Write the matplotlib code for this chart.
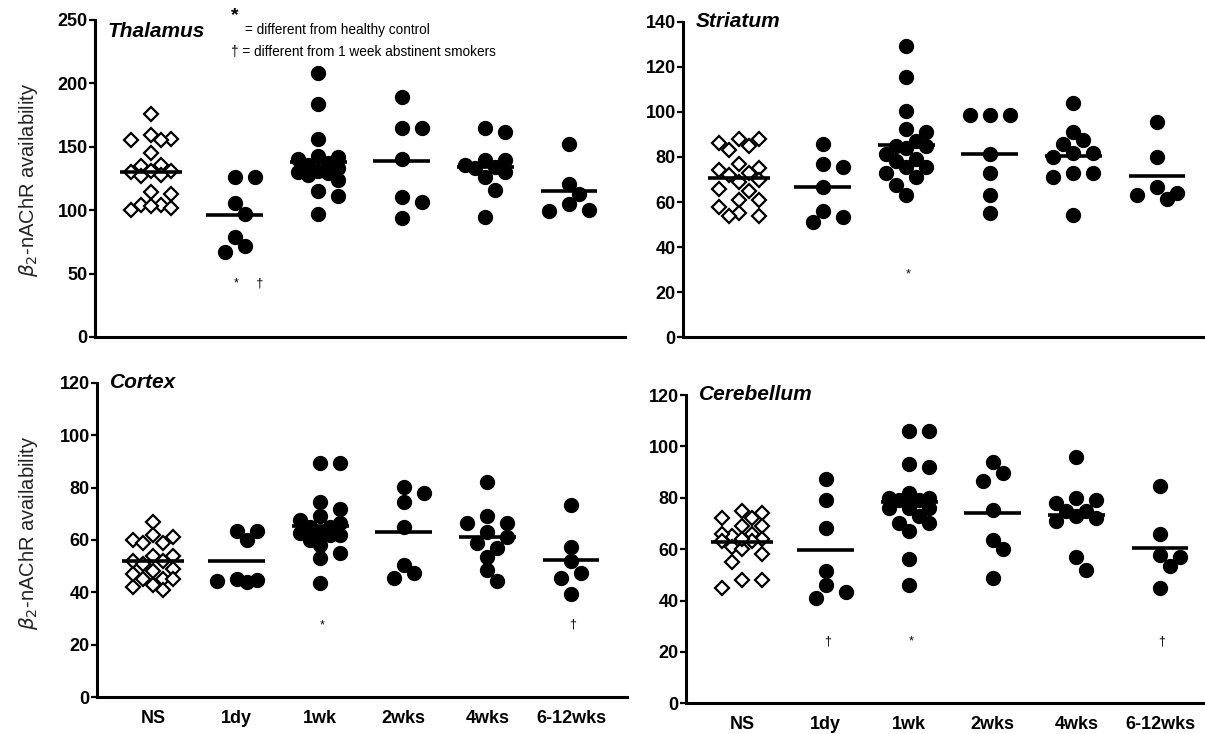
import matplotlib
matplotlib.use("Agg")
import matplotlib.pyplot as plt
import numpy as np

plt.rcParams['font.family'] = ['Liberation Sans', 'DejaVu Sans']

groups = ["NS", "1dy", "1wk", "2wks", "4wks", "6-12wks"]

# beta2-nAChR availability per subject, one list per group
thalamus = [
    [176, 159, 156, 155, 155, 145, 136, 135, 131, 131, 130, 128, 127, 114, 113, 104, 104, 103, 102, 100],
    [126, 126, 106, 97, 79, 67, 72],
    [208, 184, 156, 143, 142, 140, 137, 136, 133, 131, 130, 129, 128, 124, 115, 111, 97],
    [189.5, 164.5, 164.5, 140, 110.5, 106.6, 94.2],
    [164.5, 162, 133, 126, 135.5, 139.5, 134, 139.5, 130, 116, 95],
    [152, 121, 113, 104.7, 99.5, 100],
]
striatum = [
    [88, 88, 86, 85, 83, 77, 75, 74, 73, 72, 70, 69, 66, 65, 61, 61, 58, 55, 54, 54],
    [85.7, 75.7, 76.9, 66.5, 56.2, 51, 53.2],
    [129, 115.5, 100.6, 92.5, 91, 87, 85, 85, 84, 81.5, 79, 78, 75.5, 75.5, 73, 71, 67.5, 63],
    [98.6, 98.6, 98.6, 81.2, 73, 63.1, 55],
    [103.8, 91.2, 87.5, 85.7, 81.9, 81.6, 80, 72.7, 71.3, 72.7, 54.3],
    [95.7, 79.8, 64.2, 61.2, 66.5, 63.1],
]
cortex = [
    [67, 60, 62, 61, 59, 59, 54, 52, 54, 52, 51, 49, 48, 45, 45, 45, 43, 42, 41, 47],
    [63.4, 60, 63.4, 44.7, 44.1, 45, 44.5],
    [89.2, 89.2, 74.6, 72, 69, 67.6, 65, 65, 66.4, 61.9, 62.5, 61.9, 58, 54.9, 53, 43.7, 63, 60],
    [80.3, 74.6, 78, 65, 50.5, 45.4, 47.3],
    [82.2, 66.4, 69.2, 66.6, 63.2, 58.7, 61.3, 56.8, 53.6, 48.6, 44.5],
    [73.3, 57.2, 52, 47.3, 45.4, 39.3],
]
cerebellum = [
    [75, 72, 72, 74, 69, 69, 65, 66, 66, 64, 63, 61, 60, 58, 55, 48, 48, 45, 63, 64],
    [87.2, 79.1, 68.1, 51.6, 46, 41.1, 43.5],
    [106, 106, 92, 93, 82, 80, 79, 80, 76, 76, 70, 67, 70, 73, 56, 46, 79, 76],
    [89.8, 86.7, 94, 75.2, 63.6, 59.9, 48.7],
    [96, 79, 80, 78, 75, 75, 72, 71, 73, 57, 52],
    [84.6, 65.9, 57.1, 57.7, 53.6, 44.8],
]

# significance symbols under groups (group index, symbol)
thal_sig = [(1, "*     \u2020")]
stri_sig = [(2, "*")]
cort_sig = [(2, "*"), (5, "\u2020")]
cere_sig = [(1, "\u2020"), (2, "*"), (5, "\u2020")]

W, H = 1205, 734
fig = plt.figure(figsize=(W / 100, H / 100), dpi=100)
XLIM = (-0.67, 5.67)


def swarm(vals, xs, ys, diam=13.0, step=0.12, kmax=2):
    vals = np.asarray(vals, float)
    order = np.argsort(-vals, kind="stable")
    offs = np.zeros(len(vals))
    placed = []
    cands = [0] + [s * k for k in range(1, kmax + 1) for s in (1, -1)]
    for i in order:
        best, bestd = 0.0, -1
        for k in cands:
            x = k * step
            dmin = min((np.hypot((x - px) * xs, (vals[i] - py) * ys) for px, py in placed),
                       default=np.inf)
            if dmin >= diam:
                best = x
                break
            if dmin > bestd:
                best, bestd = x, dmin
        offs[i] = best
        placed.append((best, vals[i]))
    return offs


def panel(box, data, ymax, ystep, title, title_y, sigs, sig_y, xlabels):
    l, t, r, b = box
    ax = fig.add_axes([l / W, 1 - b / H, (r - l) / W, (b - t) / H])
    xs = (r - l) / (XLIM[1] - XLIM[0])
    ys = (b - t) / ymax
    for i, vals in enumerate(data):
        offs = swarm(vals, xs, ys)
        if i == 0:
            ax.plot(i + offs, vals, "D", ms=7.5, mfc="white", mec="black", mew=1.6,
                    zorder=2, clip_on=False)
            hw = 0.37
        else:
            ax.plot(i + offs, vals, "o", ms=10, color="black", zorder=2, clip_on=False)
            hw = 0.34
        ax.hlines(np.mean(vals), i - hw, i + hw, color="black", lw=2.6, zorder=3)
    for gi, s in sigs:
        ax.text(gi + (0.17 if len(s) > 1 else 0.02), sig_y, s, ha="center", va="center",
                fontsize=9, transform=ax.get_xaxis_transform())
    ax.set_xlim(*XLIM)
    ax.set_ylim(0, ymax)
    ax.set_yticks(np.arange(0, ymax + 1, ystep))
    for sp in ("top", "right"):
        ax.spines[sp].set_visible(False)
    for sp in ("left", "bottom"):
        ax.spines[sp].set_linewidth(2.2)
    ax.tick_params(axis="y", length=4.5, width=1.6, pad=0.8, labelsize=13)
    ax.tick_params(axis="x", length=0, pad=9, labelsize=13)
    if xlabels:
        ax.set_xticks(range(len(groups)))
        ax.set_xticklabels(groups)
    else:
        ax.set_xticks([])
    for lab in ax.get_yticklabels() + ax.get_xticklabels():
        lab.set_fontweight("bold")
    ax.text(0.024, title_y, title, transform=ax.transAxes, ha="left", va="center",
            fontsize=15, fontweight="bold", fontstyle="italic")
    return ax


panel((95, 20, 625, 337), thalamus, 250, 50, "Thalamus", 0.965, thal_sig, 0.17, False)
panel((683, 21.7, 1213, 337.3), striatum, 140, 20, "Striatum", 1.0, stri_sig, 0.2, False)
panel((97, 382.7, 627, 697.3), cortex, 120, 20, "Cortex", 1.0, cort_sig, 0.23, True)
panel((686, 395, 1216, 703.3), cerebellum, 120, 20, "Cerebellum", 1.0, cere_sig, 0.2, True)

ylab = r"$\beta_2$-nAChR availability"
fig.text(29 / W, 1 - 180 / H, ylab, rotation=90, ha="center", va="center", fontsize=14.5,
         color="#222222")
fig.text(29 / W, 1 - 533 / H, ylab, rotation=90, ha="center", va="center", fontsize=14.5,
         color="#222222")

fig.text(235 / W, 1 - 16 / H, "*", ha="center", va="center", fontsize=14, fontweight="bold")
fig.text(245 / W, 1 - 30 / H, "= different from healthy control", ha="left", va="center",
         fontsize=9.8)
fig.text(231 / W, 1 - 52 / H, "\u2020 = different from 1 week abstinent smokers", ha="left",
         va="center", fontsize=9.8)

fig.savefig("out.png", dpi=100)
